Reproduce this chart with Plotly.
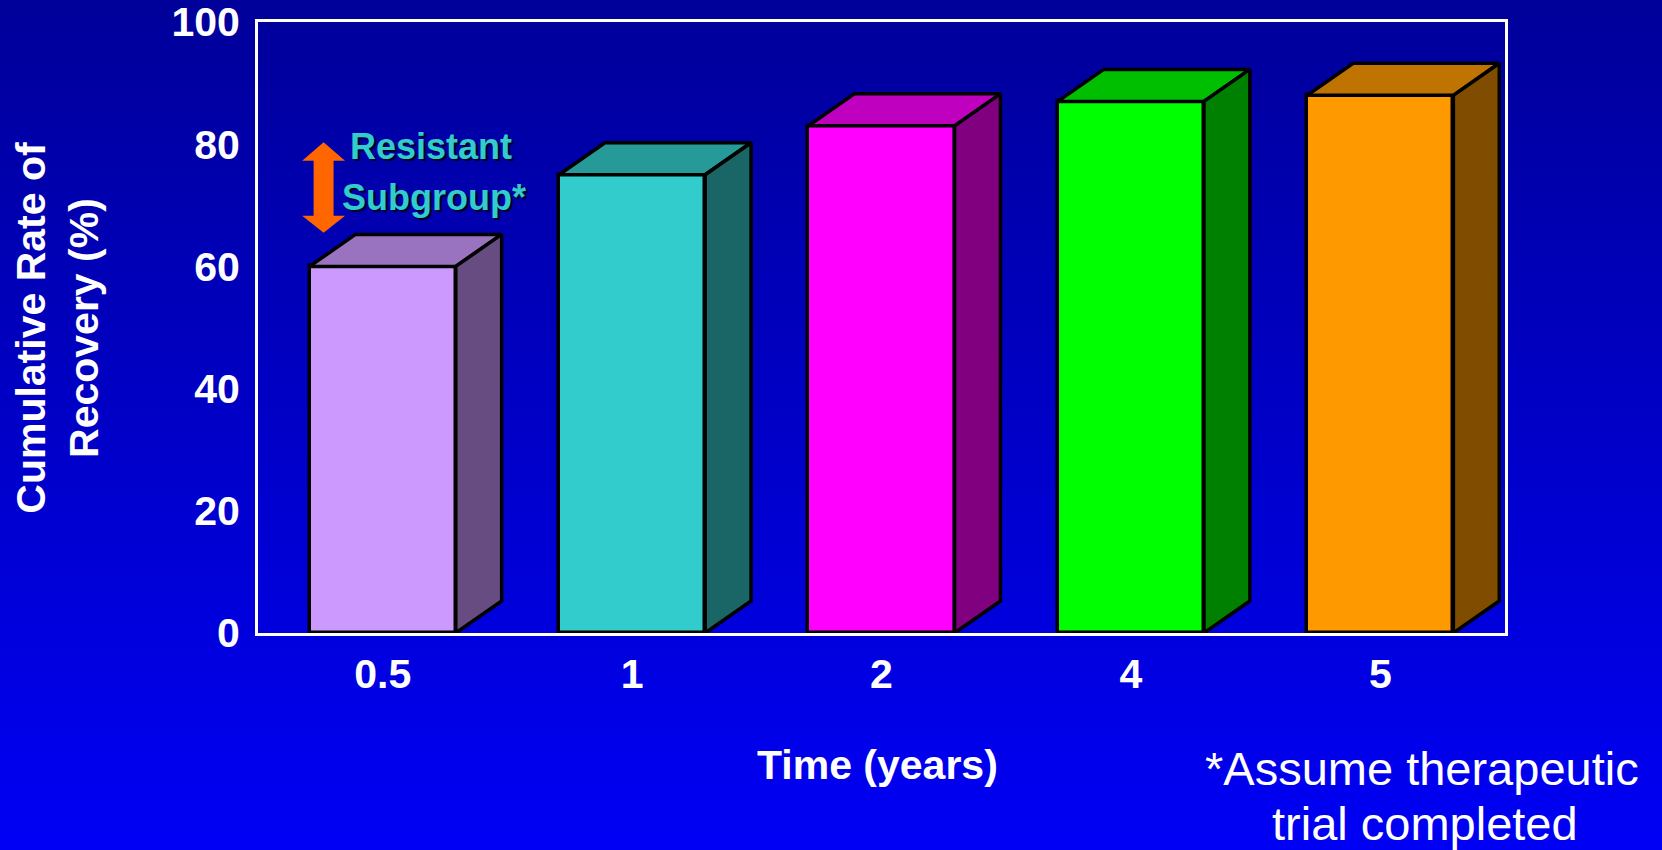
import plotly.graph_objects as go

# ---- data -----------------------------------------------------------------
years = ["0.5", "1", "2", "4", "5"]
recovery = [60, 75, 83, 87, 88]
front_colors = ["#CC99FF", "#33CCCC", "#FF00FF", "#00FF00", "#FF9900"]
top_colors = ["#9973BF", "#269999", "#BF00BF", "#00BF00", "#BF7300"]
side_colors = ["#664C80", "#1A6666", "#800080", "#008000", "#804C00"]
y_ticks = [0, 20, 40, 60, 80, 100]

# ---- geometry of the pseudo-3D columns (axis units) -----------------------
BAR_W = 0.586      # front face width, in category units
DEPTH_X = 0.184    # horizontal depth offset, in category units
DEPTH_Y = 5.24     # vertical depth offset, in % units
EDGE_W = 3.5

FONT = "Liberation Sans, Arial, sans-serif"
WHITE = "#FFFFFF"

xs = list(range(len(years)))

fig = go.Figure()

# front faces
fig.add_bar(
    x=xs, y=recovery, width=BAR_W,
    marker=dict(color=front_colors, line=dict(color="black", width=EDGE_W)),
    cliponaxis=False, showlegend=False, hoverinfo="skip",
)

# top and side faces, derived from each bar's value
for x, v, ct, cs in zip(xs, recovery, top_colors, side_colors):
    xl, xr = x - BAR_W / 2, x + BAR_W / 2
    fig.add_scatter(
        x=[xl, xr, xr + DEPTH_X, xl + DEPTH_X, xl],
        y=[v, v, v + DEPTH_Y, v + DEPTH_Y, v],
        mode="lines", fill="toself", fillcolor=ct,
        line=dict(color="black", width=EDGE_W),
        cliponaxis=False, showlegend=False, hoverinfo="skip",
    )
    fig.add_scatter(
        x=[xr, xr + DEPTH_X, xr + DEPTH_X, xr, xr],
        y=[0, DEPTH_Y, v + DEPTH_Y, v, 0],
        mode="lines", fill="toself", fillcolor=cs,
        line=dict(color="black", width=EDGE_W),
        cliponaxis=False, showlegend=False, hoverinfo="skip",
    )

# ---- double-headed arrow beside the first column ---------------------------
ARROW_X = -0.237
ARROW_HEAD = 0.086
ARROW_SHAFT = 0.040
ARROW_TOP, ARROW_TOP_BASE = 80.3, 77.3
ARROW_BOT_BASE, ARROW_BOT = 68.3, 65.5
arrow_x = [ARROW_X, ARROW_X + ARROW_HEAD, ARROW_X + ARROW_SHAFT, ARROW_X + ARROW_SHAFT,
           ARROW_X + ARROW_HEAD, ARROW_X, ARROW_X - ARROW_HEAD, ARROW_X - ARROW_SHAFT,
           ARROW_X - ARROW_SHAFT, ARROW_X - ARROW_HEAD, ARROW_X]
arrow_y = [ARROW_TOP, ARROW_TOP_BASE, ARROW_TOP_BASE, ARROW_BOT_BASE,
           ARROW_BOT_BASE, ARROW_BOT, ARROW_BOT_BASE, ARROW_BOT_BASE,
           ARROW_TOP_BASE, ARROW_TOP_BASE, ARROW_TOP]
fig.add_scatter(
    x=arrow_x, y=arrow_y, mode="lines", fill="toself", fillcolor="#FF6600",
    line=dict(width=0, color="#FF6600"), cliponaxis=False,
    showlegend=False, hoverinfo="skip",
)

# ---- vertical blue gradient background ------------------------------------
W, H = 1662, 850
M_L, M_R, M_T, M_B = 258, 157, 22, 217
plot_h = H - M_T - M_B
top_rgb, bot_rgb = (0, 0, 153), (0, 0, 245)
n_steps = 85
shapes = []
for i in range(n_steps):
    py0 = i * H / n_steps - (0.6 if i == 0 else 0)
    py1 = (i + 1) * H / n_steps + 0.6
    t = (i + 0.5) / n_steps
    c = tuple(round(a + (b - a) * t) for a, b in zip(top_rgb, bot_rgb))
    shapes.append(dict(
        type="rect", xref="paper", yref="paper", layer="below",
        x0=-0.3, x1=1.3,
        y0=(H - M_B - py1) / plot_h, y1=(H - M_B - py0) / plot_h,
        fillcolor=f"rgb{c}", line=dict(width=0),
    ))

axis_common = dict(
    showline=True, mirror=True, linecolor=WHITE, linewidth=3,
    showgrid=False, zeroline=False, ticks="", layer="below traces",
    ticklabeloverflow="allow", automargin=False,
    tickfont=dict(family=FONT, size=41, color=WHITE, weight="bold"),
)

title_font = dict(family=FONT, size=41, color=WHITE, weight="bold")
note_font = dict(family=FONT, size=47, color=WHITE)
callout_font = dict(family=FONT, size=36, color="#33CCCC", weight="bold",
                    shadow="2px 2px 1px rgba(0,0,30,0.95)")

annotations = [
    dict(text="Cumulative Rate of<br>Recovery (%)", textangle=-90,
         xref="paper", yref="paper", x=-0.161, y=0.5,
         xanchor="center", yanchor="middle", showarrow=False, font=title_font),
    dict(text="Time (years)", xref="paper", yref="paper", x=0.497, y=-0.216,
         xanchor="center", yanchor="middle", showarrow=False, font=title_font),
    dict(text="*Assume therapeutic", xref="paper", yref="paper", x=0.9335, y=-0.221,
         xanchor="center", yanchor="middle", showarrow=False, font=note_font),
    dict(text="trial completed", xref="paper", yref="paper", x=0.936, y=-0.311,
         xanchor="center", yanchor="middle", showarrow=False, font=note_font),
    dict(text="Resistant", xref="x", yref="y", x=0.193, y=79.7,
         xanchor="center", yanchor="middle", showarrow=False, font=callout_font),
    dict(text="Subgroup*", xref="x", yref="y", x=0.206, y=71.2,
         xanchor="center", yanchor="middle", showarrow=False, font=callout_font),
]

fig.update_layout(
    width=W, height=H,
    margin=dict(l=M_L, r=M_R, t=M_T, b=M_B, autoexpand=False),
    paper_bgcolor="#000099", plot_bgcolor="rgba(0,0,0,0)",
    showlegend=False, bargap=0,
    xaxis=dict(range=[-0.5, len(years) - 0.5], tickvals=xs, ticktext=years,
               ticklabelstandoff=3, **axis_common),
    yaxis=dict(range=[0, 100], tickvals=y_ticks, ticklabelstandoff=7,
               **axis_common),
    shapes=shapes,
    annotations=annotations,
    font=dict(family=FONT, color=WHITE),
)

fig.write_html("out.html")
